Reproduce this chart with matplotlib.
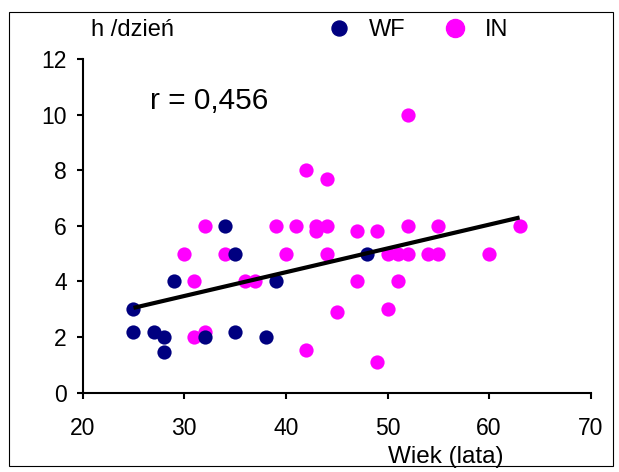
import matplotlib.pyplot as plt
from matplotlib.lines import Line2D
from matplotlib.patches import Rectangle

plt.rcParams['font.family'] = ['Liberation Sans', 'DejaVu Sans']

# wiek i godziny dziennie - grupa WF
wf_wiek = [25, 25, 27, 28, 28, 29, 32, 34, 35, 35, 38, 39, 48]
wf_h = [3, 2.2, 2.2, 2, 1.45, 4, 2, 6, 5, 2.2, 2, 4, 5]

# grupa IN
in_wiek = [30, 31, 31, 32, 32, 34, 36, 37, 39, 40, 41, 42, 42, 43, 43, 44, 44, 44,
           45, 47, 47, 49, 49, 50, 50, 51, 51, 52, 52, 52, 54, 55, 55, 60, 63]
in_h = [5, 4, 2, 6, 2.2, 5, 4, 4, 6, 5, 6, 8, 1.55, 6, 5.8, 6, 7.7, 5,
        2.9, 5.8, 4, 5.8, 1.1, 5, 3, 5, 4, 10, 6, 5, 5, 6, 5, 5, 6]

# linia trendu
trend_x = [25, 63]
trend_y = [3.05, 6.3]

navy = '#000080'
magenta = '#FF00FF'

fig = plt.figure(figsize=(6.19, 4.72), dpi=100)
ax = fig.add_axes([0.1336, 0.168, 0.8207, 0.707])

ax.scatter(in_wiek, in_h, s=105, color=magenta, linewidths=0, zorder=2)
ax.scatter(wf_wiek, wf_h, s=105, color=navy, linewidths=0, zorder=3)
ax.plot(trend_x, trend_y, color='black', lw=3, solid_capstyle='butt', zorder=4)

ax.set_xlim(20, 70)
ax.set_ylim(0, 12)
ax.set_xticks(range(20, 71, 10))
ax.set_yticks(range(0, 13, 2))

for s in ['top', 'right']:
    ax.spines[s].set_visible(False)
for s in ['left', 'bottom']:
    ax.spines[s].set_linewidth(1.5)
ax.tick_params(axis='both', direction='out', length=4.5, width=1.5, labelsize=16.5)
ax.tick_params(axis='x', pad=13)
ax.tick_params(axis='y', pad=7)

ax.text(26.6, 10.5, 'r = 0,456', fontsize=21.5, va='center', ha='left')

fig.text(91 / 619, 1 - 30 / 472, 'h /dzień', fontsize=17, va='center', ha='left')
fig.text(388 / 619, 1 - 457 / 472, 'Wiek (lata)', fontsize=17.5, va='center', ha='left')

handles = [Line2D([], [], ls='none', marker='o', color=navy, markersize=10.8),
           Line2D([], [], ls='none', marker='o', color=magenta, markersize=13)]
fig.legend(handles, ['WF', 'IN'], loc='center', bbox_to_anchor=(0.675, 0.936),
           ncol=2, frameon=False, fontsize=17, handlelength=1,
           handletextpad=0.75, columnspacing=1.6)

fig.patches.append(Rectangle((9 / 619, 6 / 472), 604 / 619, 454 / 472,
                             transform=fig.transFigure, fill=False,
                             edgecolor='black', lw=0.8))

fig.savefig('out.png', dpi=100)
